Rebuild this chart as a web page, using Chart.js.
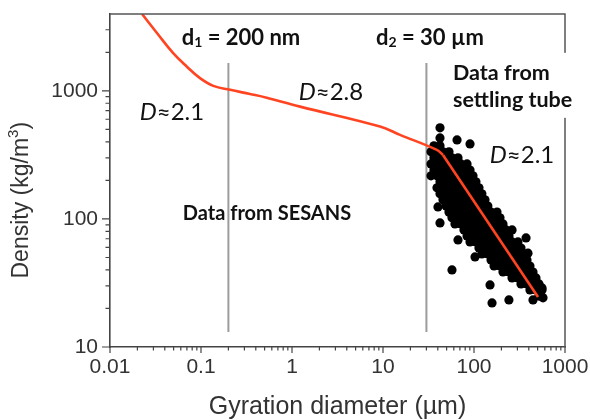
<!DOCTYPE html>
<html><head><meta charset="utf-8">
<script src="https://cdn.jsdelivr.net/npm/chart.js@4/dist/chart.umd.min.js"></script>
<style>html,body{margin:0;padding:0;background:#fff}</style>
</head><body>
<canvas id="c" width="590" height="420"></canvas>
<script>
// ---------- data ----------
const xTickValues = [0.01, 0.1, 1, 10, 100, 1000];
const xTickLabels = ['0.01', '0.1', '1', '10', '100', '1000'];
const yTickValues = [10, 100, 1000];
const yTickLabels = ['10', '100', '1000'];
const xMinorTicks = [0.02,0.03,0.04,0.05,0.06,0.07,0.08,0.09,
  0.2,0.3,0.4,0.5,0.6,0.7,0.8,0.9, 2,3,4,5,6,7,8,9,
  20,30,40,50,60,70,80,90, 200,300,400,500,600,700,800,900];
const yMinorTicks = [20,30,40,50,60,70,80,90, 200,300,400,500,600,700,800,900, 2000,3000];

// fitted density curve (red): smooth part up to the kink, then straight fit
const curveX = [0.0225, 0.0328, 0.0492, 0.0696, 0.0975, 0.1365, 0.209, 0.3455, 0.527, 1.225, 9.27, 15.4, 39, 45.6];
const curveY = [3980, 2830, 1980, 1549, 1256, 1094, 1019, 945, 884, 753, 526, 453, 346, 316];
const fitX = [45.6, 505];
const fitY = [316, 24.6];

// boundary lines d1 = 0.2 µm, d2 = 30 µm
const boundaryX = [0.2, 30];
const boundaryY = [13.1, 1650];

// settling-tube measurements (x: gyration diameter µm, y: density kg/m3)
const cloudPoints = [
 [36.3,372],[42.3,372],
 [33.7,334],[39.2,334],[45.6,334],[53.1,334],
 [36.3,300],[42.3,300],[49.3,300],[57.3,300],[66.7,300],
 [33.7,269],[39.2,269],[45.6,269],[53.1,269],[61.8,269],[71.9,269],[83.8,269],
 [36.3,241],[42.3,241],[49.3,241],[57.3,241],[66.7,241],[77.6,241],[90.4,241],
 [33.7,217],[39.2,217],[45.6,217],[53.1,217],[61.8,217],[71.9,217],[83.8,217],[97.5,217],
 [42.3,195],[49.3,195],[57.3,195],[66.7,195],[77.6,195],[90.4,195],[105,195],
 [39.2,175],[45.6,175],[53.1,175],[61.8,175],[71.9,175],[83.8,175],[97.5,175],[113.4,175],
 [42.3,157],[49.3,157],[57.3,157],[66.7,157],[77.6,157],[90.4,157],[105,157],[122,157],
 [45.6,141],[53.1,141],[61.8,141],[71.9,141],[83.8,141],[97.5,141],[113.4,141],[132.1,141],
 [49.3,126],[57.3,126],[66.7,126],[77.6,126],[90.4,126],[105,126],[122,126],[142,126],
 [53.1,113],[61.8,113],[71.9,113],[83.8,113],[97.5,113],[113.4,113],[132.1,113],[153.8,113],[178.9,113],
 [57.3,102],[66.7,102],[77.6,102],[90.4,102],[105,102],[122,102],[142,102],[166,102],[193,102],
 [61.8,91.4],[71.9,91.4],[83.8,91.4],[97.5,91.4],[113.4,91.4],[132.1,91.4],[153.8,91.4],[178.9,91.4],[208.3,91.4],
 [77.6,82],[90.4,82],[105,82],[122,82],[142,82],[166,82],[193,82],[225,82],[262,82],
 [83.8,73.6],[97.5,73.6],[113.4,73.6],[132.1,73.6],[153.8,73.6],[178.9,73.6],[208.3,73.6],[242.3,73.6],
 [90.4,66.1],[105,66.1],[122,66.1],[142,66.1],[166,66.1],[193,66.1],[225,66.1],[262,66.1],[304,66.1],
 [113.4,59.3],[132.1,59.3],[153.8,59.3],[178.9,59.3],[208.3,59.3],[242.3,59.3],[282.1,59.3],[328.4,59.3],
 [122,53.3],[142,53.3],[166,53.3],[193,53.3],[225,53.3],[262,53.3],[304,53.3],[354,53.3],
 [153.8,47.8],[178.9,47.8],[208.3,47.8],[242.3,47.8],[282.1,47.8],[328.4,47.8],[382.3,47.8],
 [166,42.9],[193,42.9],[225,42.9],[262,42.9],[304,42.9],[354,42.9],[412,42.9],
 [208.3,38.5],[242.3,38.5],[282.1,38.5],[328.4,38.5],[382.3,38.5],[445,38.5],
 [262,34.6],[304,34.6],[354,34.6],[412,34.6],[480,34.6],
 [328.4,31.1],[382.3,31.1],[445,31.1],[517.9,31.1],
 [412,27.9],[480,27.9],[559,27.9],
 [517.9,25.0]
];
const outlierPoints = [
 [42.3,514],[42.3,429],[65.1,414],[90.4,385],[40.2,124],[42.3,93.1],[57.3,40.0],
 [66.7,68.5],[102.6,50.5],[150,30.5],[157.8,22.1],[242,23.3],[373,71.1],[392,54],
 [445,23.3],[573,24.2],[559,28.9]
];

// ---------- annotations (anchored in data space) ----------
const B = 'Lato, "Open Sans", sans-serif';
const A = '"Liberation Sans", Arial, sans-serif';
const annotations = [
 {x:0.275, y:2594, segs:[['d','bold 22px '+B],['1','bold 14px '+B,5],[' = 200 nm','bold 22px '+B]]},
 {x:32.8, y:2594, segs:[['d','bold 22px '+B],['2','bold 14px '+B,5],[' = 30 µm','bold 22px '+B]]},
 {x:0.048, y:685, segs:[['D','italic 24px '+B],['≈2.1','24px '+B]]},
 {x:2.68, y:982, segs:[['D','italic 24px '+B],['≈2.8','24px '+B]]},
 {x:337, y:316, segs:[['D','italic 24px '+B],['≈2.1','24px '+B]]},
 {x:0.531, y:111, segs:[['Data from SESANS','bold 20px '+B]]}
];
const tubeLabel = {x:58.8, y1:1382, y2:851, lines:['Data from','settling tube'], font:'bold 21.5px '+B};
const yTitle = {y:140, segs:[['Density (kg/m','23px '+A],['3','15px '+A,-8],[')','23px '+A]]};

function drawRich(ctx, segs, cx, cy){
  let w = 0;
  const m = segs.map(s => { ctx.font = s[1]; const ww = ctx.measureText(s[0]).width; w += ww; return ww; });
  let x = cx - w/2;
  ctx.textAlign = 'left'; ctx.textBaseline = 'middle';
  segs.forEach((s,i) => { ctx.font = s[1]; ctx.fillText(s[0], x, cy + (s[2]||0)); x += m[i]; });
}

const decor = {
  id: 'decor',
  afterDraw(chart){
    const ctx = chart.ctx, xs = chart.scales.x, ys = chart.scales.y, a = chart.chartArea;
    ctx.save();
    // frame top & right
    ctx.strokeStyle = '#555'; ctx.lineWidth = 1.5;
    ctx.beginPath();
    ctx.moveTo(a.left, a.top); ctx.lineTo(a.right, a.top); ctx.lineTo(a.right, a.bottom);
    ctx.stroke();
    // ticks
    ctx.strokeStyle = '#444'; ctx.lineWidth = 1.2;
    ctx.beginPath();
    xTickValues.forEach(v => { const p = xs.getPixelForValue(v); ctx.moveTo(p, a.bottom); ctx.lineTo(p, a.bottom + 6); });
    xMinorTicks.forEach(v => { const p = xs.getPixelForValue(v); ctx.moveTo(p, a.bottom); ctx.lineTo(p, a.bottom + 3.5); });
    yTickValues.forEach(v => { const p = ys.getPixelForValue(v); ctx.moveTo(a.left, p); ctx.lineTo(a.left - 8, p); });
    yMinorTicks.forEach(v => { const p = ys.getPixelForValue(v); ctx.moveTo(a.left, p); ctx.lineTo(a.left - 4.5, p); });
    ctx.stroke();
    // annotations
    ctx.fillStyle = '#111';
    annotations.forEach(an => drawRich(ctx, an.segs, xs.getPixelForValue(an.x), ys.getPixelForValue(an.y)));
    // settling tube label with white background
    const lx = xs.getPixelForValue(tubeLabel.x), l1 = ys.getPixelForValue(tubeLabel.y1), l2 = ys.getPixelForValue(tubeLabel.y2);
    ctx.font = tubeLabel.font;
    const tw = Math.max(...tubeLabel.lines.map(t => ctx.measureText(t).width));
    ctx.fillStyle = '#fff';
    ctx.fillRect(lx - 3, l1 - 20, tw + 6, (l2 - l1) + 38);
    ctx.fillStyle = '#111'; ctx.textAlign = 'left'; ctx.textBaseline = 'middle';
    ctx.fillText(tubeLabel.lines[0], lx, l1);
    ctx.fillText(tubeLabel.lines[1], lx, l2);
    // y axis title
    ctx.save();
    ctx.translate(ys.left + 22, ys.getPixelForValue(yTitle.y));
    ctx.rotate(-Math.PI/2);
    ctx.fillStyle = '#333';
    drawRich(ctx, yTitle.segs, 0, 0);
    ctx.restore();
    ctx.restore();
  }
};

const tickFont = {family: A, size: 21};
new Chart(document.getElementById('c'), {
  type: 'scatter',
  data: {
    datasets: [
      {type:'line', data: curveX.map((x,i)=>({x, y: curveY[i]})), borderColor:'#ff4422', borderWidth:2.6,
       pointRadius:0, tension:0.4, fill:false},
      {type:'line', data: fitX.map((x,i)=>({x, y: fitY[i]})), borderColor:'#ff4422', borderWidth:2.6,
       pointRadius:0, tension:0, fill:false},
      {data: cloudPoints.concat(outlierPoints).map(p=>({x:p[0], y:p[1]})), backgroundColor:'#000',
       borderWidth:0, pointRadius:4.6},
      {type:'line', data: boundaryY.map(y=>({x:boundaryX[0], y})), borderColor:'#9c9c9c', borderWidth:2, pointRadius:0},
      {type:'line', data: boundaryY.map(y=>({x:boundaryX[1], y})), borderColor:'#9c9c9c', borderWidth:2, pointRadius:0}
    ]
  },
  options: {
    responsive: false, animation: false, devicePixelRatio: 1,
    layout: {padding: {top: 14, right: 25, left: 0, bottom: 0}},
    plugins: {legend: {display: false}, tooltip: {enabled: false}},
    scales: {
      x: {
        type: 'logarithmic', position: 'bottom', min: 0.01, max: 1000,
        grid: {display: false, drawTicks: false},
        border: {display: true, color: '#444', width: 1.6},
        afterBuildTicks: s => { s.ticks = xTickValues.map(v => ({value: v})); },
        afterFit: s => { s.height = 73; s.paddingLeft = 0; s.paddingRight = 0; },
        ticks: {font: tickFont, color: '#333', padding: 8, autoSkip: false, maxRotation: 0,
                callback: (v) => xTickLabels[xTickValues.indexOf(v)] ?? ''},
        title: {display: true, text: 'Gyration diameter (µm)', color: '#333',
                font: {family: A, size: 25, lineHeight: 1}, padding: {top: 0, bottom: 0}}
      },
      y: {
        type: 'logarithmic', position: 'left', min: 10, max: 3981,
        grid: {display: false, drawTicks: false},
        border: {display: true, color: '#444', width: 1.6},
        afterBuildTicks: s => { s.ticks = yTickValues.map(v => ({value: v})); },
        afterFit: s => { s.width = 110; s.paddingTop = 0; s.paddingBottom = 0; },
        ticks: {font: tickFont, color: '#333', padding: 12, autoSkip: false,
                callback: (v) => yTickLabels[yTickValues.indexOf(v)] ?? ''},
        title: {display: false}
      }
    }
  },
  plugins: [decor]
});
</script>
</body></html>
